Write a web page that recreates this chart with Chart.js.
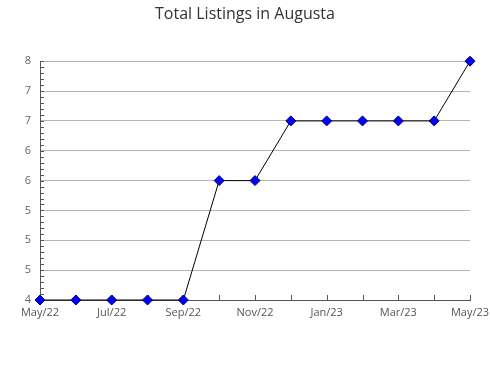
<!DOCTYPE html>
<html>
<head>
<meta charset="utf-8">
<script src="https://cdn.jsdelivr.net/npm/chart.js@4"></script>
<style>
  html, body { margin: 0; padding: 0; background: #fff; }
  #wrap { width: 490px; height: 380px; }
</style>
</head>
<body>
<div id="wrap"><canvas id="chart" width="490" height="380"></canvas></div>
<script>
const months = ['May/22', 'Jun/22', 'Jul/22', 'Aug/22', 'Sep/22', 'Oct/22', 'Nov/22',
                'Dec/22', 'Jan/23', 'Feb/23', 'Mar/23', 'Apr/23', 'May/23'];
const listings = [4, 4, 4, 4, 4, 6, 6, 7, 7, 7, 7, 7, 8];
const yTicks = [4, 4.5, 5, 5.5, 6, 6.5, 7, 7.5, 8];
const yTickLabels = ['4', '5', '5', '5', '6', '6', '7', '7', '8'];

// small tick marks drawn inside the plot, like the original
const innerTicks = {
    id: 'innerTicks',
    beforeDatasetsDraw(chart) {
        const ctx = chart.ctx;
        const x = chart.scales.x;
        const y = chart.scales.y;
        ctx.save();
        ctx.strokeStyle = '#555';
        ctx.lineWidth = 1;
        ctx.beginPath();
        months.forEach((m, i) => {
            const px = Math.round(x.getPixelForValue(i)) + 0.5;
            ctx.moveTo(px, y.bottom);
            ctx.lineTo(px, y.bottom - 5);
        });
        for (let v = 40; v <= 80; v++) {
            const py = Math.round(y.getPixelForValue(v / 10)) + 0.5;
            ctx.moveTo(x.left, py);
            ctx.lineTo(x.left + 4, py);
        }
        ctx.stroke();
        ctx.restore();
    }
};

const ctx = document.getElementById('chart').getContext('2d');
const chart = new Chart(ctx, {
    type: 'line',
    data: {
        labels: months,
        datasets: [{
            data: listings,
            borderColor: '#000',
            borderWidth: 1,
            pointStyle: 'rectRot',
            pointRadius: 5,
            pointBackgroundColor: '#0000ff',
            pointBorderColor: '#000066',
            pointBorderWidth: 1,
            tension: 0,
            fill: false,
            clip: false
        }]
    },
    options: {
        responsive: false,
        animation: false,
        layout: { padding: 0 },
        plugins: {
            legend: { display: false },
            tooltip: { enabled: false },
            title: {
                display: true,
                text: 'Total Listings in Augusta',
                color: '#333',
                font: { family: 'Open Sans', size: 16, weight: 'normal' },
                padding: { top: 5, bottom: 37 }
            }
        },
        scales: {
            x: {
                offset: false,
                afterFit(scale) {
                    scale.height = 80;
                    scale.paddingLeft = 0;
                    scale.paddingRight = 20;
                },
                grid: { drawOnChartArea: false, drawTicks: false },
                border: { color: '#555', width: 1 },
                ticks: {
                    autoSkip: false,
                    maxRotation: 0,
                    padding: 6,
                    color: '#555',
                    font: { family: 'Open Sans', size: 11 },
                    callback: (val, i) => (i % 2 === 0 ? months[i] : '')
                }
            },
            y: {
                min: 4,
                max: 8,
                afterFit(scale) {
                    scale.width = 40;
                    scale.paddingTop = 0;
                    scale.paddingBottom = 0;
                },
                afterBuildTicks(scale) {
                    scale.ticks = yTicks.map(v => ({ value: v }));
                },
                grid: { color: '#b4b4b4', drawTicks: false },
                border: { color: '#555', width: 1 },
                ticks: {
                    padding: 9,
                    color: '#666',
                    font: { family: 'Open Sans', size: 11 },
                    callback: (val, i) => yTickLabels[i]
                }
            }
        }
    },
    plugins: [innerTicks]
});
</script>
</body>
</html>
